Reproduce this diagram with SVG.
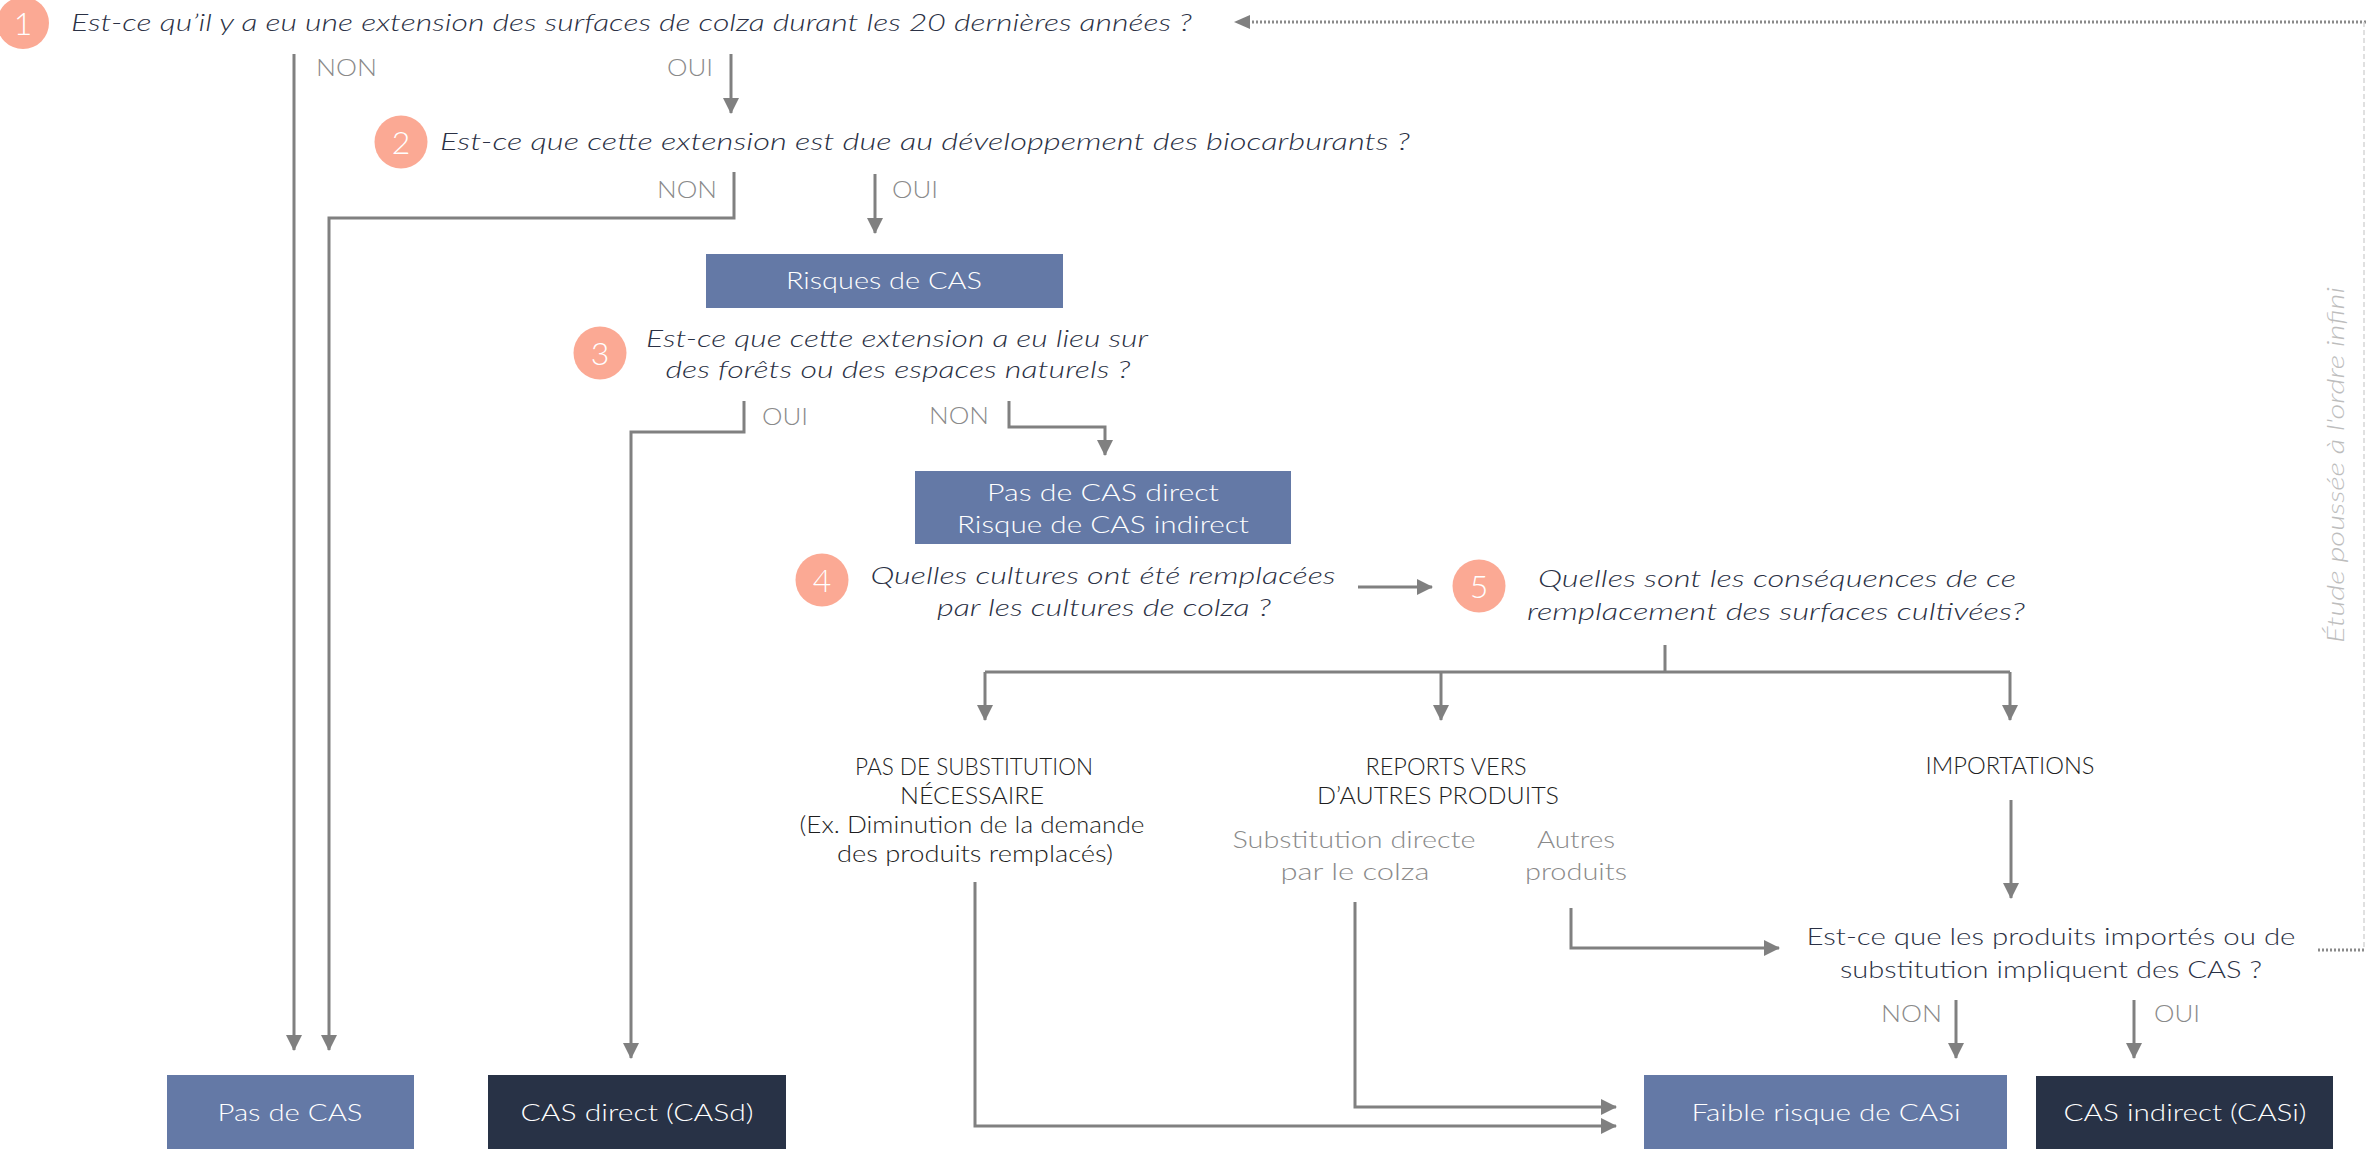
<svg xmlns="http://www.w3.org/2000/svg" width="2366" height="1149" viewBox="0 0 2366 1149">
<defs>
<style>
text{font-family:Lato,"Liberation Sans","Noto Sans",Arial,sans-serif;font-size:24px;font-weight:300}
.q{fill:#2b3145;font-style:italic}
.qu{fill:#2b3145}
.lbl{fill:#8a8a8a}
.gray{fill:#8a8a8a}
.blk{fill:#1e1e1e}
.bx{fill:#ffffff;text-anchor:middle}
.num{fill:#ffffff;text-anchor:middle;font-size:32px}
.c{text-anchor:middle}
.circ{fill:#fba994}
.blue{fill:#6479a6}
.dark{fill:#283246}
.ln{fill:none;stroke:#808080;stroke-width:3}
.dot{fill:none;stroke:#8a8a8a;stroke-width:3;stroke-dasharray:2 2}
.dash{fill:none;stroke:#d6d6d6;stroke-width:1.5;stroke-dasharray:5 3}
</style>
<marker id="ah" viewBox="0 0 16 16" refX="15" refY="8" markerWidth="16" markerHeight="16" markerUnits="userSpaceOnUse" orient="auto">
<path d="M0,0 L16,8 L0,16 z" fill="#808080"/>
</marker>
</defs>
<rect width="2366" height="1149" fill="#ffffff"/>

<g id="connectors">
<path class="ln" d="M294,54 V1050" marker-end="url(#ah)"/>
<path class="ln" d="M731,54 V113" marker-end="url(#ah)"/>
<path class="ln" d="M734,172 V218 H329 V1050" marker-end="url(#ah)"/>
<path class="ln" d="M875,174 V233" marker-end="url(#ah)"/>
<path class="ln" d="M744,401 V432 H631 V1058" marker-end="url(#ah)"/>
<path class="ln" d="M1009,401 V427 H1105 V455" marker-end="url(#ah)"/>
<path class="ln" d="M1358,587 H1432" stroke-width="4" marker-end="url(#ah)"/>
<path class="ln" d="M1665,645 V672 M985,672 H2010"/>
<path class="ln" d="M985,672 V720" marker-end="url(#ah)"/>
<path class="ln" d="M1441,672 V720" marker-end="url(#ah)"/>
<path class="ln" d="M2010,672 V720" marker-end="url(#ah)"/>
<path class="ln" d="M2011,800 V898" marker-end="url(#ah)"/>
<path class="ln" d="M1571,908 V948 H1779" marker-end="url(#ah)"/>
<path class="ln" d="M1355,902 V1107 H1616" marker-end="url(#ah)"/>
<path class="ln" d="M975,882 V1126 H1616" marker-end="url(#ah)"/>
<path class="ln" d="M1956,1000 V1058" marker-end="url(#ah)"/>
<path class="ln" d="M2134,1000 V1058" marker-end="url(#ah)"/>
<path class="dot" d="M2366,22 H1250"/>
<path d="M1234,22 L1250,15 L1250,29 z" fill="#808080"/>
<path class="dot" d="M2318,950 H2366"/>
<path class="dash" d="M2364,22 V950"/>
</g>

<g id="labels">
<text class="lbl" x="316" y="76" textLength="61" lengthAdjust="spacingAndGlyphs">NON</text>
<text class="lbl" x="667" y="76" textLength="46" lengthAdjust="spacingAndGlyphs">OUI</text>
<text class="lbl" x="657" y="198" textLength="60" lengthAdjust="spacingAndGlyphs">NON</text>
<text class="lbl" x="892" y="198" textLength="46" lengthAdjust="spacingAndGlyphs">OUI</text>
<text class="lbl" x="762" y="425" textLength="46" lengthAdjust="spacingAndGlyphs">OUI</text>
<text class="lbl" x="929" y="424" textLength="60" lengthAdjust="spacingAndGlyphs">NON</text>
<text class="lbl" x="1881" y="1022" textLength="61" lengthAdjust="spacingAndGlyphs">NON</text>
<text class="lbl" x="2154" y="1022" textLength="46" lengthAdjust="spacingAndGlyphs">OUI</text>
</g>

<g id="q1">
<circle class="circ" cx="23" cy="23" r="26"/>
<text class="num" x="23" y="35">1</text>
<text class="q" x="71" y="31" textLength="1121" lengthAdjust="spacingAndGlyphs">Est-ce qu’il y a eu une extension des surfaces de colza durant les 20 dernières années ?</text>
</g>

<g id="q2">
<circle class="circ" cx="401" cy="142" r="26.5"/>
<text class="num" x="401" y="154">2</text>
<text class="q" x="440" y="150" textLength="970" lengthAdjust="spacingAndGlyphs">Est-ce que cette extension est due au développement des biocarburants ?</text>
</g>

<g id="risques">
<rect class="blue" x="706" y="254" width="357" height="54"/>
<text class="bx" x="884" y="289" textLength="196" lengthAdjust="spacingAndGlyphs">Risques de CAS</text>
</g>

<g id="q3">
<circle class="circ" cx="600" cy="353" r="26.5"/>
<text class="num" x="600" y="365">3</text>
<text class="q c" x="897" y="347" textLength="502" lengthAdjust="spacingAndGlyphs">Est-ce que cette extension a eu lieu sur</text>
<text class="q c" x="898" y="378" textLength="465" lengthAdjust="spacingAndGlyphs">des forêts ou des espaces naturels ?</text>
</g>

<g id="pasdirect">
<rect class="blue" x="915" y="471" width="376" height="73"/>
<text class="bx" x="1103" y="501" textLength="232" lengthAdjust="spacingAndGlyphs">Pas de CAS direct</text>
<text class="bx" x="1103" y="533" textLength="292" lengthAdjust="spacingAndGlyphs">Risque de CAS indirect</text>
</g>

<g id="q4">
<circle class="circ" cx="822" cy="580" r="26.5"/>
<text class="num" x="822" y="592">4</text>
<text class="q c" x="1103" y="584" textLength="465" lengthAdjust="spacingAndGlyphs">Quelles cultures ont été remplacées</text>
<text class="q c" x="1104" y="616" textLength="334" lengthAdjust="spacingAndGlyphs">par les cultures de colza ?</text>
</g>

<g id="q5">
<circle class="circ" cx="1479" cy="586" r="26.5"/>
<text class="num" x="1479" y="598">5</text>
<text class="q c" x="1777" y="587" textLength="478" lengthAdjust="spacingAndGlyphs">Quelles sont les conséquences de ce</text>
<text class="q c" x="1776" y="620" textLength="498" lengthAdjust="spacingAndGlyphs">remplacement des surfaces cultivées?</text>
</g>

<g id="pas-subst">
<text class="blk c" x="974" y="775" textLength="238" lengthAdjust="spacingAndGlyphs">PAS DE SUBSTITUTION</text>
<text class="blk c" x="972" y="804" textLength="144" lengthAdjust="spacingAndGlyphs">NÉCESSAIRE</text>
<text class="blk c" x="972" y="833" textLength="345" lengthAdjust="spacingAndGlyphs">(Ex. Diminution de la demande</text>
<text class="blk c" x="975" y="862" textLength="276" lengthAdjust="spacingAndGlyphs">des produits remplacés)</text>
</g>

<g id="reports">
<text class="blk c" x="1446" y="775" textLength="161" lengthAdjust="spacingAndGlyphs">REPORTS VERS</text>
<text class="blk c" x="1438" y="804" textLength="242" lengthAdjust="spacingAndGlyphs">D’AUTRES PRODUITS</text>
</g>

<g id="subst-directe">
<text class="gray c" x="1354" y="848" textLength="243" lengthAdjust="spacingAndGlyphs">Substitution directe</text>
<text class="gray c" x="1355" y="880" textLength="149" lengthAdjust="spacingAndGlyphs">par le colza</text>
</g>

<g id="autres">
<text class="gray c" x="1576" y="848" textLength="78" lengthAdjust="spacingAndGlyphs">Autres</text>
<text class="gray c" x="1576" y="880" textLength="102" lengthAdjust="spacingAndGlyphs">produits</text>
</g>

<g id="importations">
<text class="blk c" x="2010" y="774" textLength="169" lengthAdjust="spacingAndGlyphs">IMPORTATIONS</text>
</g>

<g id="q6">
<text class="qu c" x="2051" y="945" textLength="489" lengthAdjust="spacingAndGlyphs">Est-ce que les produits importés ou de</text>
<text class="qu c" x="2051" y="978" textLength="422" lengthAdjust="spacingAndGlyphs">substitution impliquent des CAS ?</text>
</g>

<g id="pas-cas">
<rect class="blue" x="167" y="1075" width="247" height="74"/>
<text class="bx" x="290" y="1121" textLength="145" lengthAdjust="spacingAndGlyphs">Pas de CAS</text>
</g>

<g id="cas-direct">
<rect class="dark" x="488" y="1075" width="298" height="74"/>
<text class="bx" x="637" y="1121" textLength="233" lengthAdjust="spacingAndGlyphs">CAS direct (CASd)</text>
</g>

<g id="faible">
<rect class="blue" x="1644" y="1075" width="363" height="74"/>
<text class="bx" x="1826" y="1121" textLength="269" lengthAdjust="spacingAndGlyphs">Faible risque de CASi</text>
</g>

<g id="cas-indirect">
<rect class="dark" x="2036" y="1076" width="297" height="73"/>
<text class="bx" x="2185" y="1121" textLength="243" lengthAdjust="spacingAndGlyphs">CAS indirect (CASi)</text>
</g>

<g id="etude">
<text class="c" x="0" y="0" transform="translate(2344,465) rotate(-90)" fill="#bdbdbd" font-style="italic" textLength="356" lengthAdjust="spacingAndGlyphs">Étude poussée à l'ordre infini</text>
</g>
</svg>
